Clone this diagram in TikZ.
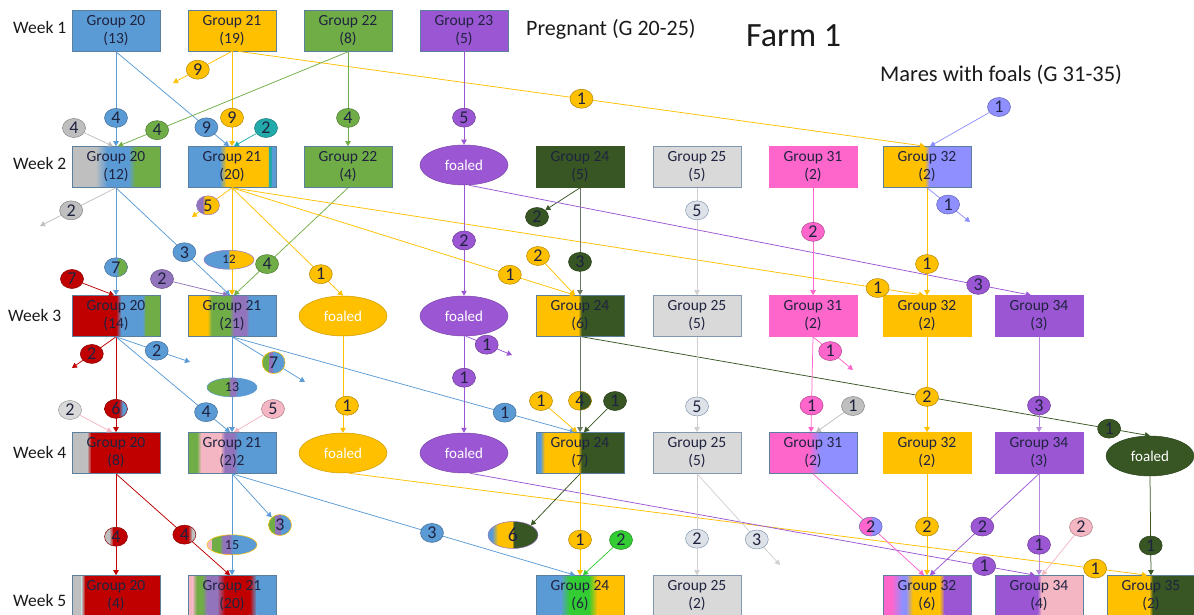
\documentclass[tikz,border=0pt]{standalone}
\usepackage{fontspec}
\setmainfont{Carlito}
\usetikzlibrary{shapes.geometric,arrows.meta,calc}

\definecolor{cBlue}{HTML}{5B9BD5}
\definecolor{cOrange}{HTML}{FFC000}
\definecolor{cGreen}{HTML}{70AD47}
\definecolor{cPurple}{HTML}{9B57D3}
\definecolor{cMauve}{HTML}{9274BC}
\definecolor{cDkGreen}{HTML}{375623}
\definecolor{cDkLine}{HTML}{6B7A60}
\definecolor{cGray}{HTML}{BFBFBF}
\definecolor{cLtGray}{HTML}{D9D9D9}
\definecolor{cG25}{HTML}{DDE2E9}
\definecolor{cG25Line}{HTML}{D0D0D0}
\definecolor{cG25Border}{HTML}{8497B0}
\definecolor{cPink}{HTML}{FF66CC}
\definecolor{cLtPink}{HTML}{F4B6C2}
\definecolor{cPeri}{HTML}{8F8FFF}
\definecolor{cRed}{HTML}{C00000}
\definecolor{cTeal}{HTML}{22AAAA}
\definecolor{cBrGreen}{HTML}{33CC33}
\definecolor{cBorder}{HTML}{5A7F9F}
\definecolor{cText}{HTML}{1F2340}
\definecolor{cLabel}{HTML}{1A1A1A}

\tikzset{
  box/.style={rectangle, draw=cBorder, line width=0.6pt, minimum width=88pt,
    minimum height=41pt, inner sep=0pt, align=center, text=cText,
    font=\fontsize{15.5}{18}\selectfont},
  foal/.style={ellipse, draw=#1!80!black, line width=0.5pt, fill=#1,
    minimum width=88pt, minimum height=40pt, inner sep=0pt, text=white,
    font=\fontsize{15}{17}\selectfont},
  bdg/.style={ellipse, draw=#1!70!black, fill=#1, line width=0.5pt,
    minimum width=23pt, minimum height=19pt, inner sep=0pt, text=cText,
    font=\fontsize{18}{18}\selectfont},
  mbdg/.style={ellipse, draw=#1, line width=0.5pt, minimum width=23pt,
    minimum height=19pt, inner sep=0pt, text=cText,
    font=\fontsize{18}{18}\selectfont},
  g25bdg/.style={bdg=cG25, draw=cG25Border},
  conn/.style={draw=#1, line width=0.75pt, -{Triangle[length=5pt,width=5.5pt]}},
  weeklbl/.style={anchor=west, inner sep=0pt, text=cLabel, font=\fontsize{17.5}{20}\selectfont},
  stripes/.style={path picture={
    \foreach \stL/\stR/\stA/\stB in {#1}{
      \shade[-, left color=\stL, right color=\stR]
        ($(path picture bounding box.south west)!\stA!(path picture bounding box.south east)$)
        rectangle
        ($(path picture bounding box.north west)!\stB!(path picture bounding box.north east)$);
    }}},
}

\begin{document}
\begin{tikzpicture}[x=1pt, y=-1pt]
\path[use as bounding box] (0,0) rectangle (1194,615);

% titles and week labels
\node[anchor=west, inner sep=0pt, text=cLabel, font=\fontsize{22}{24}\selectfont] (tPreg) at (526,29) {Pregnant (G 20-25)};
\node[anchor=west, inner sep=0pt, text=cLabel, font=\fontsize{34}{38}\selectfont] (tFarm) at (746,36) {Farm 1};
\node[anchor=west, inner sep=0pt, text=cLabel, font=\fontsize{22.5}{24}\selectfont] (tMares) at (880,75) {Mares with foals (G 31-35)};
\node[weeklbl] (w1) at (13,27) {Week 1};
\node[weeklbl] (w2) at (13,163) {Week 2};
\node[weeklbl] (w3) at (8,315) {Week 3};
\node[weeklbl] (w4) at (13,452) {Week 4};
\node[weeklbl] (w5) at (13,600) {Week 5};

% week 1
\node[box, fill=cBlue] (a20) at (116,31) {Group 20\\(13)};
\node[box, fill=cOrange] (a21) at (232,30.5) {Group 21\\(19)};
\node[box, fill=cGreen] (a22) at (348,31) {Group 22\\(8)};
\node[box, fill=cPurple] (a23) at (464,30.5) {Group 23\\(5)};

% week 2
\node[box, stripes={cGray/cGray/0/0.27, cGray/cBlue/0.27/0.4, cBlue/cBlue/0.4/0.64, cBlue/cGreen/0.64/0.72, cGreen/cGreen/0.72/1}] (b20) at (116,167) {Group 20\\(12)};
\node[box, stripes={cBlue/cBlue/0/0.36, cBlue/cOrange/0.36/0.44, cOrange/cOrange/0.44/0.92, cTeal/cTeal/0.92/0.96, cBlue/cBlue/0.96/1}] (b21) at (232,167) {Group 21\\(20)};
\node[box, fill=cGreen] (b22) at (348,167) {Group 22\\(4)};
\node[foal=cPurple] (bf) at (464,165) {foaled};
\node[box, fill=cDkGreen, draw=cDkGreen] (b24) at (580,167) {Group 24\\(5)};
\node[box, fill=cLtGray, draw=cG25Border] (b25) at (697,167) {Group 25\\(5)};
\node[box, fill=cPink, draw=cPink] (b31) at (813,167) {Group 31\\(2)};
\node[box, stripes={cOrange/cOrange/0/0.47, cOrange/cPeri/0.47/0.53, cPeri/cPeri/0.53/1}] (b32) at (927,167) {Group 32\\(2)};

% week 3
\node[box, stripes={cRed/cRed/0/0.5, cRed/cBlue/0.5/0.56, cBlue/cBlue/0.56/0.8, cBlue/cGreen/0.8/0.84, cGreen/cGreen/0.84/1}] (c20) at (116,316) {Group 20\\(14)};
\node[box, stripes={cOrange/cOrange/0/0.22, cOrange/cGreen/0.22/0.27, cGreen/cGreen/0.27/0.47, cGreen/cMauve/0.47/0.52, cMauve/cMauve/0.52/0.66, cMauve/cBlue/0.66/0.7, cBlue/cBlue/0.7/1}] (c21) at (232,316) {Group 21\\(21)};
\node[foal=cOrange] (cfo) at (343,316) {foaled};
\node[foal=cPurple] (cfp) at (464,316) {foaled};
\node[box, stripes={cOrange/cOrange/0/0.48, cOrange/cDkGreen/0.48/0.52, cDkGreen/cDkGreen/0.52/1}] (c24) at (580,316) {Group 24\\(6)};
\node[box, fill=cLtGray, draw=cG25Border] (c25) at (697,316) {Group 25\\(5)};
\node[box, fill=cPink, draw=cPink] (c31) at (813,316) {Group 31\\(2)};
\node[box, fill=cOrange, draw=cOrange] (c32) at (927,316) {Group 32\\(2)};
\node[box, fill=cPurple, draw=cPurple] (c34) at (1039,316) {Group 34\\(3)};

% week 4
\node[box, stripes={cGray/cGray/0/0.17, cGray/cRed/0.17/0.22, cRed/cRed/0.22/1}] (d20) at (116,453) {Group 20\\(8)};
\node[box, stripes={cGreen/cGreen/0/0.1, cGreen/cLtPink/0.1/0.15, cLtPink/cLtPink/0.15/0.37, cLtPink/cMauve/0.37/0.42, cMauve/cMauve/0.42/0.52, cMauve/cBlue/0.52/0.57, cBlue/cBlue/0.57/1}] (d21) at (232,453) {Group 21\\(2)2};
\node[foal=cOrange] (dfo) at (343,453) {foaled};
\node[foal=cPurple] (dfp) at (464,453) {foaled};
\node[box, stripes={cBlue/cBlue/0/0.05, cBlue/cOrange/0.05/0.1, cOrange/cOrange/0.1/0.48, cOrange/cDkGreen/0.48/0.52, cDkGreen/cDkGreen/0.52/1}] (d24) at (580,453) {Group 24\\(7)};
\node[box, fill=cLtGray, draw=cG25Border] (d25) at (697,453) {Group 25\\(5)};
\node[box, stripes={cPink/cPink/0/0.45, cPink/cPeri/0.45/0.58, cPeri/cPeri/0.58/1}] (d31) at (813,453) {Group 31\\(2)};
\node[box, fill=cOrange, draw=cOrange] (d32) at (927,453) {Group 32\\(2)};
\node[box, fill=cPurple, draw=cPurple] (d34) at (1039,453) {Group 34\\(3)};
\node[foal=cDkGreen] (dfg) at (1150,456) {foaled};

% week 5
\node[box, stripes={cGray/cGray/0/0.11, cGray/cRed/0.11/0.15, cRed/cRed/0.15/1}] (e20) at (116,596) {Group 20\\(4)};
\node[box, stripes={cLtPink/cLtPink/0/0.05, cLtPink/cGreen/0.05/0.1, cGreen/cGreen/0.1/0.16, cGreen/cMauve/0.16/0.22, cMauve/cMauve/0.22/0.33, cMauve/cRed/0.33/0.42, cRed/cRed/0.42/0.7, cRed/cBlue/0.7/0.78, cBlue/cBlue/0.78/1}] (e21) at (232,596) {Group 21\\(20)};
\node[box, stripes={cBlue/cBlue/0/0.28, cBlue/cBrGreen/0.28/0.38, cBrGreen/cBrGreen/0.38/0.6, cBrGreen/cOrange/0.6/0.7, cOrange/cOrange/0.7/1}] (e24) at (580,596) {Group 24\\(6)};
\node[box, fill=cLtGray, draw=cG25Border] (e25) at (697,596) {Group 25\\(2)};
\node[box, stripes={cPink/cPink/0/0.1, cPink/cPeri/0.1/0.22, cPeri/cPeri/0.22/0.26, cPeri/cOrange/0.26/0.34, cOrange/cOrange/0.34/0.64, cOrange/cPurple/0.64/0.7, cPurple/cPurple/0.7/1}] (e32) at (927,596) {Group 32\\(6)};
\node[box, stripes={cPurple/cPurple/0/0.48, cPurple/cLtPink/0.48/0.53, cLtPink/cLtPink/0.53/1}] (e34) at (1039,596) {Group 34\\(4)};
\node[box, stripes={cOrange/cOrange/0/0.48, cOrange/cDkGreen/0.48/0.52, cDkGreen/cDkGreen/0.52/1}] (e35) at (1151,596) {Group 35\\(2)};

% loose arrow ends
\coordinate (f1) at (173,83);
\coordinate (f2) at (40,226);
\coordinate (f3) at (192,217);
\coordinate (f4) at (970,222);
\coordinate (f5) at (72,368);
\coordinate (f6) at (190,362);
\coordinate (f7) at (305,382);
\coordinate (f8) at (512,355);
\coordinate (f9) at (853,370);
\coordinate (f10) at (780,565);

% incoming counts without a source box
\node[bdg=cGray] (s1) at (74,128) {4};
\node[bdg=cTeal] (s2) at (266,128) {2};
\node[bdg=cPeri] (s3) at (999,107) {1};
\node[bdg=cRed] (s4) at (72,279) {7};
\node[bdg=cMauve] (s5) at (162,279) {2};
\node[bdg=cOrange] (s6) at (538,256) {2};
\node[bdg=cDkGreen] (s7) at (537,217) {2};
\node[bdg=cLtGray] (s8) at (70,410) {2};
\node[bdg=cLtPink] (s9) at (273,409) {5};
\node[bdg=cOrange] (s11) at (541,401) {1};
\node[bdg=cDkGreen] (s12) at (615,401) {1};
\node[bdg=cGray] (s13) at (853,406) {1};
\node[mbdg=cOrange, minimum height=21pt, stripes={cGreen/cGreen/0/0.3, cMauve/cMauve/0.3/0.55, cBlue/cBlue/0.55/1}] (s14) at (280,525) {3};
\node[mbdg=cMauve, minimum width=50pt, minimum height=27pt, font=\fontsize{20}{20}\selectfont, stripes={cBlue/cBlue/0/0.08, cBlue/cOrange/0.08/0.2, cOrange/cOrange/0.2/0.48, cOrange/cDkGreen/0.48/0.52, cDkGreen/cDkGreen/0.52/1}] (s15) at (513,535) {6};
\node[bdg=cBrGreen] (s16) at (621,540) {2};
\node[bdg=cLtPink] (s17) at (1081,527) {2};

% week 1 -> week 2
\draw[conn=cBlue] (a20.south) -- node[bdg=cBlue,pos=0.70]{4} (b20.north);
\draw[conn=cBlue] (a20.south) -- node[bdg=cBlue,pos=0.80]{9} ($(b21.north)+(-3,0)$);
\draw[conn=cOrange] (a21.south) -- node[bdg=cOrange,pos=0.58]{9} (f1);
\draw[conn=cOrange] (a21.south) -- node[bdg=cOrange,pos=0.70]{9} (b21.north);
\draw[conn=cOrange] ($(a21.south)+(6,0)$) -- node[bdg=cOrange,pos=0.50]{1} ($(b32.north)+(-2,0)$);
\draw[conn=cGreen] (a22.south) -- node[bdg=cGreen,pos=0.83]{4} ($(b20.north)+(2,0)$);
\draw[conn=cGreen] (a22.south) -- node[bdg=cGreen,pos=0.70]{4} (b22.north);
\draw[conn=cGray] (s1) -- ($(b20.north)+(-3,0)$);
\draw[conn=cTeal] (s2) -- ($(b21.north)+(2,0)$);
\draw[conn=cPurple] (a23.south) -- node[bdg=cPurple,pos=0.71]{5} (bf.north);
\draw[conn=cPeri] (s3) -- ($(b32.north)+(3,0)$);

% week 2 -> week 3
\draw[conn=cGray] (b20.south) -- node[bdg=cGray,pos=0.59]{2} (f2);
\draw[conn=cBlue] (b20.south) -- node[mbdg=cBlue!70!black, stripes={cBlue/cBlue/0/0.5, cBlue/cGreen/0.5/0.65, cGreen/cGreen/0.65/1}, pos=0.74]{7} (c20.north);
\draw[conn=cBlue] (b20.south) -- node[bdg=cBlue,pos=0.60]{3} ($(c21.north)+(-2,0)$);
\draw[conn=cRed] (s4) -- ($(c20.north)+(-2,0)$);
\draw[conn=cMauve] (s5) -- ($(c21.north)+(-4,0)$);
\draw[conn=cOrange] (b21.south) -- node[mbdg=cMauve, stripes={cMauve/cMauve/0/0.25, cMauve/cOrange/0.25/0.4, cOrange/cOrange/0.4/1}, pos=0.6]{5} (f3);
\draw[conn=cOrange] (b21.south) -- node[mbdg=cMauve, minimum width=50pt, font=\fontsize{13}{13}\selectfont, stripes={cBlue/cBlue/0/0.48, cBlue/cOrange/0.48/0.52, cOrange/cOrange/0.52/1}, pos=0.67, xshift=-3pt]{12} (c21.north);
\draw[conn=cGreen] (b22.south) -- node[bdg=cGreen,pos=0.71]{4} ($(c21.north)+(2,0)$);
\draw[conn=cOrange] (b21.south) -- node[bdg=cOrange,pos=0.80]{1} (cfo.north);
\draw[conn=cOrange] (b21.south) -- node[bdg=cOrange,pos=0.81]{1} ($(c24.north)+(-5,0)$);
\draw[conn=cOrange] (s6) -- ($(c24.north)+(-5,0)$);
\draw[conn=cOrange] (b21.south) -- node[bdg=cOrange,pos=0.933]{1} ($(c32.north)+(-3,0)$);
\draw[conn=cDkGreen] (b24.south) -- (s7.north east);
\draw[conn=cDkLine] (b24.south) -- node[bdg=cDkGreen,pos=0.69]{3} (c24.north);
\draw[conn=cG25Line] (b25.south) -- node[g25bdg,pos=0.21]{5} (c25.north);
\draw[conn=cPurple] (bf.south) -- node[bdg=cPurple,pos=0.5]{2} (cfp.north);
\draw[conn=cPurple] ($(bf.south)+(5,0)$) -- node[bdg=cPurple,pos=0.906]{3} ($(c34.north)+(-8,0)$);
\draw[conn=cPink] (b31.south) -- node[bdg=cPink,pos=0.41]{2} (c31.north);
\draw[conn=cOrange] (b32.south) -- node[bdg=cOrange,pos=0.71]{1} (c32.north);
\draw[conn=cPeri] (b32.south) -- node[bdg=cPeri,pos=0.49]{1} (f4);

% week 3 -> week 4
\draw[conn=cRed] (c20.south) -- node[bdg=cRed,pos=0.55]{2} (f5);
\draw[conn=cBlue] (c20.south) -- node[bdg=cBlue,pos=0.55]{2} (f6);
\draw[conn=cRed] (c20.south) -- node[mbdg=cRed!70!black, stripes={cRed/cRed/0/0.6, cRed/cBlue/0.6/0.8, cBlue/cBlue/0.8/1}, pos=0.755]{6} (d20.north);
\draw[conn=cBlue] (c20.south) -- node[bdg=cBlue,pos=0.79]{4} ($(d21.north)+(-2,0)$);
\draw[conn=cLtPink] (s8) -- ($(d20.north)+(-4,0)$);
\draw[conn=cBlue] (c21.south) -- node[mbdg=cBlue, minimum width=50pt, font=\fontsize{14}{14}\selectfont, stripes={cGreen/cGreen/0/0.42, cGreen/cMauve/0.42/0.48, cMauve/cMauve/0.48/0.56, cMauve/cBlue/0.56/0.62, cBlue/cBlue/0.62/1}, pos=0.53]{13} (d21.north);
\draw[conn=cLtPink] (s9) -- ($(d21.north)+(2,0)$);
\draw[conn=cBlue] (c21.south) -- node[mbdg=cOrange, minimum height=22pt, stripes={cGreen/cGreen/0/0.3, cMauve/cMauve/0.3/0.5, cBlue/cBlue/0.5/1}, pos=0.57]{7} (f7);
\draw[conn=cBlue] (c21.south) -- node[bdg=cBlue,pos=0.795]{1} ($(d24.north)+(-5,0)$);
\draw[conn=cOrange] (cfo.south) -- node[bdg=cOrange,pos=0.72,xshift=4pt]{1} (dfo.north);
\draw[conn=cPurple] (cfp.south) -- node[bdg=cPurple,pos=0.43]{1} (dfp.north);
\draw[conn=cPurple] ($(cfp.south)+(2,0)$) -- node[bdg=cPurple,pos=0.45]{1} (f8);
\draw[conn=cDkLine] (c24.south) -- node[mbdg=cOrange!70!black, stripes={cOrange/cOrange/0/0.5, cDkGreen/cDkGreen/0.5/1}, pos=0.67]{4} (d24.north);
\draw[conn=cOrange] (s11) -- ($(d24.north)+(-3,0)$);
\draw[conn=cDkGreen] (s12) -- ($(d24.north)+(4,0)$);
\draw[conn=cDkGreen] ($(c24.south)+(2,0)$) -- node[bdg=cDkGreen,pos=0.928]{1} (dfg.north);
\draw[conn=cG25Line] (c25.south) -- node[g25bdg,pos=0.73]{5} (d25.north);
\draw[conn=cPink] (c31.south) -- node[bdg=cPink,pos=0.72]{1} ($(d31.north)+(-2,0)$);
\draw[conn=cPink] (c31.south) -- node[bdg=cPink,pos=0.43]{1} (f9);
\draw[conn=cGray] (s13) -- ($(d31.north)+(3,0)$);
\draw[conn=cOrange] (c32.south) -- node[bdg=cOrange,pos=0.63]{2} (d32.north);
\draw[conn=cPurple!70] (c34.south) -- node[bdg=cPurple,pos=0.72]{3} (d34.north);

% week 4 -> week 5
\draw[conn=cRed] (d20.south) -- node[mbdg=cRed!70!black, stripes={cGray/cGray/0/0.2, cGray/cRed/0.2/0.4, cRed/cRed/0.4/1}, pos=0.62]{4} (e20.north);
\draw[conn=cRed] (d20.south) -- node[mbdg=cRed!70!black, stripes={cRed/cRed/0/0.65, cRed/cGray/0.65/0.85, cGray/cGray/0.85/1}, pos=0.6]{4} ($(e21.north)+(-2,0)$);
\draw[conn=cBlue] (d21.south) -- node[mbdg=cOrange, minimum width=50pt, minimum height=20pt, font=\fontsize{14}{14}\selectfont, stripes={cLtPink/cLtPink/0/0.1, cGreen/cGreen/0.1/0.25, cGreen/cMauve/0.25/0.32, cMauve/cMauve/0.32/0.45, cMauve/cBlue/0.45/0.52, cBlue/cBlue/0.52/1}, pos=0.70]{15} (e21.north);
\draw[conn=cBlue] (d21.south) -- (s14.north west);
\draw[conn=cBlue] (d21.south) -- node[bdg=cBlue,pos=0.583]{3} ($(e24.north)+(-5,0)$);
\draw[conn=cOrange] ($(dfo.south)+(6,0)$) -- node[bdg=cOrange,pos=0.935]{1} ($(e35.north)+(-4,0)$);
\draw[conn=cPurple] ($(dfp.south)+(6,0)$) -- node[bdg=cPurple,pos=0.91]{1} ($(e34.north)+(-4,0)$);
\draw[conn=cDkGreen] (d24.south) -- (s15.north east);
\draw[conn=cOrange] (d24.south) -- node[bdg=cOrange,pos=0.65]{1} (e24.north);
\draw[conn=cBrGreen] (s16) -- ($(e24.north)+(3,0)$);
\draw[conn=cG25Line] (d25.south) -- node[g25bdg,pos=0.64]{2} (e25.north);
\draw[conn=cG25Line] (d25.south) -- node[g25bdg,pos=0.72]{3} (f10);
\draw[conn=cPink] (d31.south) -- node[mbdg=cPeri!70!black, stripes={cPink/cPink/0/0.45, cPink/cPeri/0.45/0.6, cPeri/cPeri/0.6/1}, pos=0.52]{2} ($(e32.north)+(-3,0)$);
\draw[conn=cOrange] (d32.south) -- node[bdg=cOrange,pos=0.52]{2} (e32.north);
\draw[conn=cPurple] (d34.south) -- node[bdg=cPurple,pos=0.52]{2} ($(e32.north)+(3,0)$);
\draw[conn=cPurple!70] (d34.south) -- node[bdg=cPurple,pos=0.70]{1} (e34.north);
\draw[conn=cLtPink] (s17) -- ($(e34.north)+(3,0)$);
\draw[conn=cDkGreen] (dfg.south) -- node[bdg=cDkGreen,pos=0.70]{1} (e35.north);
\end{tikzpicture}
\end{document}
